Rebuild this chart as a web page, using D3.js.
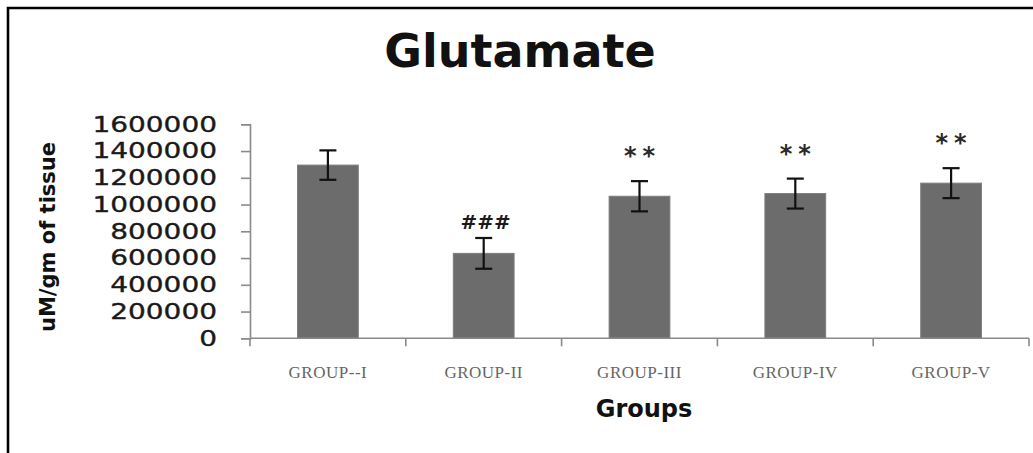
<!DOCTYPE html>
<html>
<head>
<meta charset="utf-8">
<script src="https://cdn.jsdelivr.net/npm/d3@7"></script>
<style>
  html, body { margin: 0; padding: 0; background: #fff; }
  svg { display: block; }
</style>
</head>
<body>
<svg id="chart" width="1033" height="453"></svg>
<script>
// Glutamate levels per treatment group (uM/gm of tissue), mean ± SEM
const groups = ["GROUP--I", "GROUP-II", "GROUP-III", "GROUP-IV", "GROUP-V"];
const means = [1295000, 635000, 1062000, 1082000, 1160000];
const errors = [110000, 115000, 113000, 112000, 112000];
const marks = ["", "###", "**", "**", "**"];
const yTicks = [0, 200000, 400000, 600000, 800000, 1000000, 1200000, 1400000, 1600000];

const svg = d3.select("#chart");

// outer frame (top and left edges visible)
svg.append("path")
  .attr("d", "M8,453 L8,8 L1033,8")
  .attr("fill", "none")
  .attr("stroke", "#000")
  .attr("stroke-width", 2.6);

const plotLeft = 250, plotRight = 1029, plotTop = 124.3, plotBottom = 338.3;

const x = d3.scaleBand()
  .domain(groups)
  .range([plotLeft, plotRight])
  .paddingInner(0.61)
  .paddingOuter(0.305);

const y = d3.scaleLinear()
  .domain([0, 1600000])
  .range([plotBottom, plotTop]);

// title
svg.append("text")
  .attr("x", 520)
  .attr("y", 67)
  .attr("text-anchor", "middle")
  .attr("font-family", "DejaVu Sans")
  .attr("font-weight", "bold")
  .attr("font-size", 46)
  .attr("fill", "#111")
  .text("Glutamate");

// y axis
const yAxis = svg.append("g")
  .attr("transform", `translate(${plotLeft},0)`)
  .call(d3.axisLeft(y).tickValues(yTicks).tickFormat(d3.format("d")).tickSizeOuter(0).tickSize(9).tickPadding(24));
yAxis.select(".domain").attr("stroke", "#8a8a8a").attr("stroke-width", 1.6);
yAxis.selectAll(".tick line").attr("stroke", "#8a8a8a").attr("stroke-width", 1.6);
yAxis.selectAll(".tick text")
  .attr("font-family", "DejaVu Sans")
  .attr("font-size", 21)
  .attr("stroke", "#1a1a1a")
  .attr("stroke-width", 0.35)
  .attr("fill", "#1a1a1a")
  .attr("textLength", d => String(d).length * 17.8)
  .attr("lengthAdjust", "spacingAndGlyphs");

// y axis title
svg.append("text")
  .attr("transform", "translate(55,237) rotate(-90)")
  .attr("text-anchor", "middle")
  .attr("font-family", "DejaVu Sans")
  .attr("font-weight", "bold")
  .attr("font-size", 21)
  .attr("fill", "#111")
  .text("uM/gm of tissue");

// bars
svg.append("g").selectAll("rect")
  .data(groups)
  .join("rect")
  .attr("x", d => x(d))
  .attr("width", x.bandwidth())
  .attr("y", (d, i) => y(means[i]))
  .attr("height", (d, i) => y(0) - y(means[i]))
  .attr("fill", "#6c6c6c")
  .attr("stroke", "#7d7d7d")
  .attr("stroke-width", 1);

// x axis line with boundary ticks
const xg = svg.append("g");
xg.append("line")
  .attr("x1", plotLeft).attr("x2", plotRight)
  .attr("y1", plotBottom).attr("y2", plotBottom)
  .attr("stroke", "#8a8a8a").attr("stroke-width", 1.6);
const bounds = d3.range(groups.length + 1).map(i => plotLeft + i * x.step());
xg.selectAll("line.tick")
  .data(bounds)
  .join("line")
  .attr("class", "tick")
  .attr("x1", d => d).attr("x2", d => d)
  .attr("y1", plotBottom).attr("y2", plotBottom + 8)
  .attr("stroke", "#8a8a8a").attr("stroke-width", 1.6);

// category labels
xg.selectAll("text")
  .data(groups)
  .join("text")
  .attr("x", d => x(d) + x.bandwidth() / 2)
  .attr("y", 378)
  .attr("text-anchor", "middle")
  .attr("font-family", "Liberation Serif")
  .attr("font-size", 17)
  .attr("letter-spacing", 0.5)
  .attr("fill", "#666")
  .text(d => d);

// x axis title
svg.append("text")
  .attr("x", 644)
  .attr("y", 417)
  .attr("text-anchor", "middle")
  .attr("font-family", "DejaVu Sans")
  .attr("font-weight", "bold")
  .attr("font-size", 24)
  .attr("fill", "#111")
  .text("Groups");

// error bars
const eb = svg.append("g").attr("stroke", "#111").attr("stroke-width", 2.2);
groups.forEach((g, i) => {
  const cx = x(g) + x.bandwidth() / 2;
  const hi = y(means[i] + errors[i]);
  const lo = y(means[i] - errors[i]);
  eb.append("line").attr("x1", cx).attr("x2", cx).attr("y1", hi).attr("y2", lo);
  eb.append("line").attr("x1", cx - 8.5).attr("x2", cx + 8.5).attr("y1", hi).attr("y2", hi);
  eb.append("line").attr("x1", cx - 8.5).attr("x2", cx + 8.5).attr("y1", lo).attr("y2", lo);
});

// significance markers
groups.forEach((g, i) => {
  if (!marks[i]) return;
  const cx = x(g) + x.bandwidth() / 2;
  const hi = y(means[i] + errors[i]);
  if (marks[i] === "###") {
    svg.append("text")
      .attr("x", cx + 2)
      .attr("y", hi - 9)
      .attr("text-anchor", "middle")
      .attr("font-family", "DejaVu Sans")
      .attr("font-weight", "bold")
      .attr("font-size", 20)
      .attr("fill", "#1a1a1a")
      .text(marks[i]);
  } else {
    svg.append("text")
      .attr("x", cx + 3)
      .attr("y", hi - 17)
      .attr("text-anchor", "middle")
      .attr("font-family", "DejaVu Sans")
      .attr("font-weight", "bold")
      .attr("font-size", 24)
      .attr("letter-spacing", 6)
      .attr("fill", "#2a2a2a")
      .text(marks[i]);
  }
});
</script>
</body>
</html>
